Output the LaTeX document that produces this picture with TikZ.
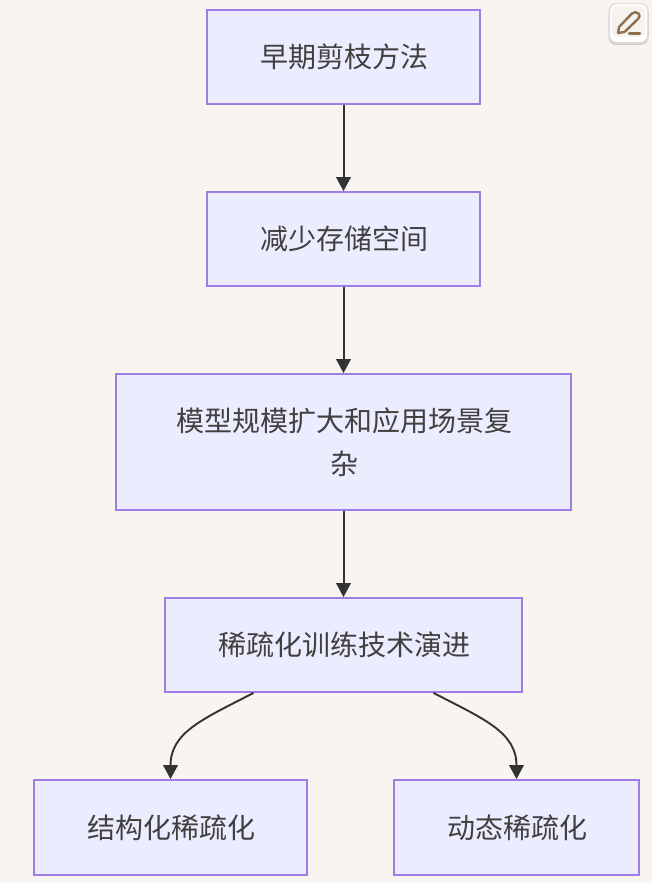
\documentclass[tikz,border=0pt]{standalone}
\usepackage{fontspec}
\setmainfont{Noto Sans CJK SC}
\usetikzlibrary{arrows.meta}
\definecolor{pagebg}{HTML}{F8F5F1}
\definecolor{boxfill}{HTML}{ECECFF}
\definecolor{boxline}{HTML}{9F7DE4}
\definecolor{ink}{HTML}{333333}
\definecolor{labelink}{HTML}{404040}
\definecolor{penbrown}{HTML}{8F704F}
\definecolor{iconedge}{HTML}{DEDAD4}
\definecolor{iconface}{HTML}{F6F3EE}
\tikzset{
  flowbox/.style={draw=boxline,fill=boxfill,line width=1.8pt,text=labelink,align=center,inner sep=0pt,font=\fontsize{28}{43}\selectfont,execute at begin node=\hspace*{1.2pt}},
  flowlink/.style={draw=ink,line width=2pt,-{Triangle[length=14pt,width=14.5pt]}},
  bendlink/.style={draw=ink,line width=1.9pt,-{Triangle[length=14pt,width=14.5pt]}}
}
\begin{document}
\begin{tikzpicture}[x=1pt,y=-1pt]
\useasboundingbox[fill=pagebg] (0,0) rectangle (652,883);
\node[flowbox,minimum width=273pt,minimum height=94pt] (a) at (343.5,57) {早期剪枝方法};
\node[flowbox,minimum width=273pt,minimum height=94pt] (b) at (343.5,239) {减少存储空间};
\node[flowbox,minimum width=455pt,minimum height=136pt] (c) at (343.5,442) {模型规模扩大和应用场景复\\杂};
\node[flowbox,minimum width=357pt,minimum height=94pt] (d) at (343.5,645) {稀疏化训练技术演进};
\node[flowbox,minimum width=273pt,minimum height=95pt] (e) at (170.5,827.5) {结构化稀疏化};
\node[flowbox,minimum width=245pt,minimum height=95pt] (f) at (516.5,827.5) {动态稀疏化};
\draw[flowlink] (a) -- (b);
\draw[flowlink] (b) -- (c);
\draw[flowlink] (c) -- (d);
\draw[bendlink] ([xshift=-90pt]d.south) .. controls +(-50,26) and (170.5,732) .. (e.north);
\draw[bendlink] ([xshift=90pt]d.south) .. controls +(50,26) and (516.5,732) .. (f.north);
% edit icon
\fill[black!22,rounded corners=8pt] (608.5,4) rectangle (648.5,45);
\fill[iconedge,rounded corners=8pt] (608.5,3) rectangle (648.5,44);
\fill[white!96!pagebg,rounded corners=7pt] (610,4) rectangle (647,42);
\fill[iconface,rounded corners=6pt] (612,6) rectangle (645,37);
\draw[penbrown,line width=2.4pt,line join=round] (618,33) -- (619,27) -- (632,13.5) .. controls (634,11.5) and (637,12) .. (638.5,13.5) .. controls (640,15) and (640,17) .. (638,19) -- (624.5,32) -- cycle;
\draw[penbrown,line width=2.4pt,line cap=round] (629,33.5) -- (640,33.5);
\end{tikzpicture}
\end{document}
